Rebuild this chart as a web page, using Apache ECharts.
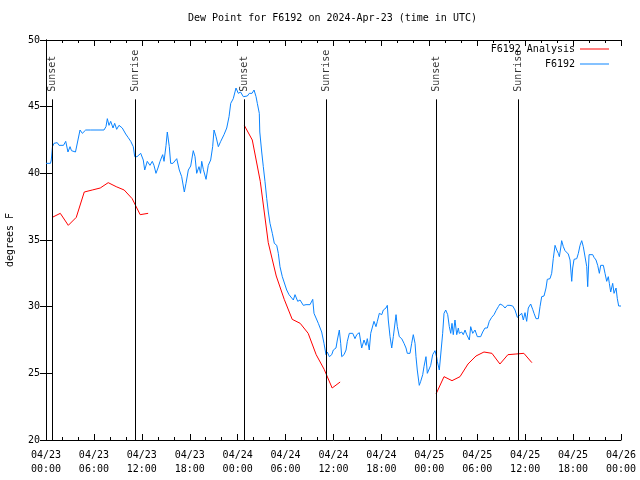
<!DOCTYPE html>
<html>
<head>
<meta charset="utf-8">
<script src="https://cdn.jsdelivr.net/npm/echarts@6/dist/echarts.min.js"></script>
<style>html,body{margin:0;padding:0;background:#fff}#c{width:640px;height:480px}</style>
</head>
<body>
<div id="c"></div>
<script>
// hours since 2024-04-23 00:00 UTC
const tickLabels = ['04/23\n00:00','04/23\n06:00','04/23\n12:00','04/23\n18:00','04/24\n00:00','04/24\n06:00','04/24\n12:00','04/24\n18:00','04/25\n00:00','04/25\n06:00','04/25\n12:00','04/25\n18:00','04/26\n00:00'];

const eventTimes = [0.79, 11.14, 24.83, 35.06, 48.84, 59.14];
const eventNames = ['Sunset','Sunrise','Sunset','Sunrise','Sunset','Sunrise'];
const eventTop = 45.55;

const stationTimes = [0,0.56,0.66,0.81,1.00,1.41,1.63,1.88,2.19,2.47,2.75,3.01,3.19,3.38,3.69,3.92,4.26,4.55,4.97,5.60,6.26,6.76,7.26,7.51,7.68,7.89,8.10,8.39,8.60,8.85,9.14,9.55,9.98,10.27,10.61,10.93,11.11,11.40,11.65,11.86,12.18,12.36,12.68,13.02,13.31,13.52,13.77,14.02,14.28,14.61,14.78,15.03,15.19,15.44,15.61,15.90,16.15,16.37,16.69,16.99,17.16,17.32,17.53,17.82,18.12,18.44,18.66,18.87,19.16,19.35,19.50,19.70,20.04,20.32,20.62,20.87,21.04,21.29,21.58,21.88,22.29,22.63,22.92,23.13,23.45,23.79,24.08,24.36,24.71,25.21,25.46,25.80,26.05,26.30,26.46,26.71,26.77,27.01,27.21,27.42,27.64,27.84,28.05,28.34,28.59,28.89,29.09,29.30,29.59,29.84,30.14,30.43,30.68,30.97,31.18,31.52,31.81,32.22,32.56,33.06,33.40,33.56,33.81,34.10,34.31,34.52,34.81,35.06,35.22,35.48,35.78,35.98,36.31,36.48,36.73,36.90,37.03,37.32,37.57,37.73,37.98,38.41,38.69,38.91,39.23,39.53,39.82,40.07,40.23,40.48,40.66,40.91,41.07,41.32,41.49,41.74,42.04,42.24,42.57,42.74,42.86,43.08,43.29,43.49,43.83,43.99,44.24,44.54,44.83,45.08,45.24,45.58,45.79,45.99,46.21,46.33,46.49,46.74,46.92,47.17,47.33,47.58,47.75,48.00,48.17,48.42,48.71,48.92,49.00,49.25,49.46,49.67,49.84,50.05,50.30,50.50,50.68,50.84,51.00,51.21,51.43,51.63,51.75,52.05,52.25,52.47,52.68,53.01,53.18,53.43,53.72,54.01,54.43,54.68,54.97,55.26,55.51,55.81,56.10,56.35,56.64,56.85,57.19,57.48,57.76,58.10,58.44,58.73,59.02,59.27,59.57,59.77,59.98,60.19,60.39,60.69,60.94,61.11,61.36,61.65,61.86,62.07,62.36,62.61,62.77,63.11,63.32,63.52,63.74,63.95,64.15,64.28,64.45,64.57,64.78,64.99,65.40,65.62,65.83,65.95,66.12,66.46,66.66,66.87,67.08,67.28,67.49,67.71,67.83,68.00,68.46,68.62,68.87,69.08,69.29,69.46,69.79,70.00,70.21,70.41,70.54,70.71,70.96,71.13,71.38,71.54,71.71,72.00];
const stationValues = [40.75,40.75,41.0,42.0,42.25,42.3,42.1,42.0,42.1,42.4,41.6,42.0,41.7,41.55,41.6,41.75,43.25,43.0,43.25,43.25,43.25,43.25,43.25,43.5,44.1,43.6,43.9,43.4,43.75,43.3,43.6,43.4,42.95,42.7,42.4,42.0,41.25,41.25,41.25,41.5,41.0,40.25,40.9,40.6,40.9,40.6,40.0,40.4,40.9,41.4,40.9,42.1,43.1,42.0,40.75,40.75,40.75,41.1,40.25,39.75,39.9,38.6,39.25,40.25,40.55,41.7,41.25,40.0,40.5,40.0,40.9,40.3,39.55,40.6,41.0,42.0,43.25,42.75,42.0,42.4,42.9,43.4,44.25,45.25,45.6,46.4,46.0,46.1,45.75,45.8,46.0,46.0,46.25,45.75,45.25,44.5,43.1,41.6,40.5,39.4,38.1,37.1,36.25,35.5,34.75,34.6,34.0,33.0,32.25,32.4,31.25,30.9,31.0,30.5,30.9,30.4,30.5,30.1,30.15,30.15,30.55,29.5,29.4,28.75,28.9,28.1,27.25,26.4,26.6,26.25,26.4,26.75,26.9,27.5,28.25,27.25,26.25,26.4,26.75,27.4,28.0,28.0,27.6,27.9,28.05,26.9,27.5,27.1,27.6,26.75,28.0,28.1,28.9,28.5,28.9,29.5,29.4,29.75,29.9,30.1,29.0,27.75,26.9,27.75,29.4,28.5,27.75,27.6,27.25,26.9,26.5,26.5,27.25,27.9,27.25,26.25,25.25,24.1,24.4,24.9,25.5,26.25,25.0,25.0,25.6,26.4,26.7,26.2,25.9,25.25,25.4,28.0,29.5,29.75,29.4,28.5,28.0,28.75,27.9,29.0,27.9,28.4,28.0,28.1,27.9,28.25,27.9,27.5,28.5,28.0,28.25,27.75,27.75,28.1,28.4,28.4,28.9,29.2,29.4,29.7,30.0,30.2,30.1,29.9,30.1,30.1,30.05,29.75,29.2,29.3,29.5,29.0,29.55,28.9,29.9,30.2,29.8,29.5,29.1,29.1,30.0,30.75,30.8,31.4,32.05,32.1,32.5,33.6,34.6,34.25,34.0,33.75,34.4,34.95,34.5,34.2,33.95,33.5,31.9,32.9,33.55,33.6,34.0,34.6,34.95,34.5,34.4,33.0,31.5,33.9,33.9,33.7,33.5,33.1,32.5,33.1,33.1,32.5,31.9,32.25,31.75,31.1,31.75,31.0,31.4,30.6,30.05,30.05];

const analysisTimes1 = [0.79,1.79,2.79,3.79,4.79,5.79,6.79,7.79,8.79,9.79,10.79,11.79,12.79];
const analysisValues1 = [36.7,37.0,36.1,36.7,38.6,38.75,38.9,39.3,39.0,38.75,38.1,36.9,37.0];
const analysisTimes2 = [24.83,25.83,26.83,27.83,28.83,29.83,30.83,31.83,32.83,33.83,34.83,35.83,36.83];
const analysisValues2 = [43.6,42.5,39.4,34.8,32.3,30.55,29.05,28.75,28.0,26.4,25.3,23.9,24.35];
const analysisTimes3 = [48.84,49.84,50.84,51.84,52.84,53.84,54.84,55.84,56.84,57.84,58.84,59.84,60.84];
const analysisValues3 = [23.45,24.75,24.45,24.75,25.7,26.3,26.6,26.5,25.7,26.4,26.45,26.5,25.8];

const FONT = 'DejaVu Sans Mono';
const pairs = (t, v) => t.map((x, i) => [x, v[i]]);
const analysisData = pairs(analysisTimes1, analysisValues1)
  .concat([[null, null]])
  .concat(pairs(analysisTimes2, analysisValues2))
  .concat([[null, null]])
  .concat(pairs(analysisTimes3, analysisValues3));

const baseX = {
  type: 'value', min: 0, max: 72, interval: 6,
  axisLine: { show: true, lineStyle: { color: '#000', width: 1 } },
  axisTick: { show: true, inside: true, length: 6, lineStyle: { color: '#000' } },
  minorTick: { show: true, splitNumber: 3, length: 3, lineStyle: { color: '#000' } },
  splitLine: { show: false }, minorSplitLine: { show: false }
};
const baseY = {
  type: 'value', min: 20, max: 50, interval: 5,
  axisLine: { show: true, lineStyle: { color: '#000', width: 1 } },
  axisTick: { show: true, inside: true, length: 6, lineStyle: { color: '#000' } },
  splitLine: { show: false }
};

const legendText = { fontFamily: FONT, fontSize: 10, color: '#000' };

const chart = echarts.init(document.getElementById('c'), null, { renderer: 'canvas' });
chart.setOption({
  animation: false,
  backgroundColor: '#fff',
  title: {
    text: 'Dew Point for F6192 on 2024-Apr-23 (time in UTC)',
    left: 188, top: 13, padding: 0,
    textStyle: { fontFamily: FONT, fontSize: 10, fontWeight: 'normal', color: '#000' }
  },
  legend: [
    { data: ['F6192 Analysis'], right: 31, top: 44, padding: 0, align: 'right', icon: 'rect',
      itemWidth: 29, itemHeight: 1, textStyle: legendText },
    { data: ['F6192'], right: 31, top: 59, padding: 0, align: 'right', icon: 'rect',
      itemWidth: 29, itemHeight: 1, textStyle: legendText }
  ],
  grid: { left: 46, right: 19, top: 40, bottom: 40, containLabel: false, outerBoundsMode: 'none' },
  xAxis: [
    Object.assign({}, baseX, { position: 'bottom',
      axisLabel: { show: true, margin: 8, fontFamily: FONT, fontSize: 10, color: '#000', lineHeight: 14,
        formatter: v => tickLabels[Math.round(v / 6)] } }),
    Object.assign({}, baseX, { position: 'top', axisLabel: { show: false } })
  ],
  yAxis: [
    Object.assign({}, baseY, { position: 'left',
      name: 'degrees F', nameLocation: 'middle', nameGap: 31, nameRotate: 90,
      nameTextStyle: { fontFamily: FONT, fontSize: 10, color: '#000' },
      axisLabel: { show: true, margin: 6, fontFamily: FONT, fontSize: 10, color: '#000' } }),
    Object.assign({}, baseY, { position: 'right', axisLabel: { show: false } })
  ],
  series: [
    {
      name: 'F6192 Analysis', type: 'line', xAxisIndex: 0, yAxisIndex: 0,
      data: analysisData, connectNulls: false, symbol: 'none', showSymbol: false,
      lineStyle: { color: '#ff0000', width: 1 }, itemStyle: { color: '#ff0000' }, z: 3
    },
    {
      name: 'F6192', type: 'line', xAxisIndex: 0, yAxisIndex: 0,
      data: pairs(stationTimes, stationValues), symbol: 'none', showSymbol: false,
      lineStyle: { color: '#0a84ff', width: 1 }, itemStyle: { color: '#0a84ff' }, z: 2
    },
    {
      type: 'scatter', xAxisIndex: 0, yAxisIndex: 0, silent: true,
      symbolSize: 1, itemStyle: { color: 'rgba(0,0,0,0)' },
      data: eventTimes.map((t, i) => ({ value: [t, eventTop], name: eventNames[i] })),
      label: { show: true, position: 'top', distance: 7, rotate: 90, align: 'left', verticalAlign: 'middle',
        formatter: p => p.name, fontFamily: FONT, fontSize: 10, color: '#000' },
      markLine: {
        silent: true, symbol: ['none', 'none'], animation: false,
        label: { show: false },
        lineStyle: { color: '#000', width: 1, type: 'solid' },
        data: eventTimes.map(t => [{ coord: [t, 20] }, { coord: [t, eventTop] }])
      },
      z: 4
    }
  ]
});
</script>
</body>
</html>
